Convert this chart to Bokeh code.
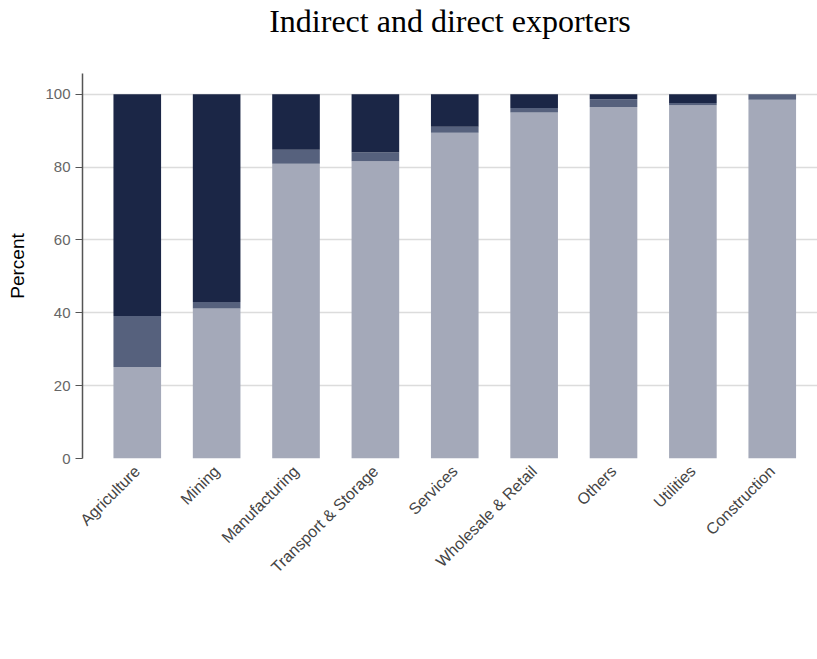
import math
from bokeh.plotting import figure
from bokeh.models import Range1d, Legend, LegendItem, Title, FixedTicker, ColumnDataSource
from bokeh.embed import file_html
from bokeh.resources import INLINE

sectors = ["Agriculture", "Mining", "Manufacturing", "Transport & Storage", "Services",
           "Wholesale & Retail", "Others", "Utilities", "Construction"]
low_exports = [25.1, 41.2, 80.9, 81.6, 89.4, 95.0, 96.5, 97.0, 98.5]
total_exports = [14.0, 1.8, 3.9, 2.5, 1.7, 1.2, 2.1, 0.6, 1.5]
direct_exports = [60.9, 57.0, 15.2, 15.9, 8.9, 3.8, 1.4, 2.4, 0.0]
series_names = ["Low exports", "25%+ total exports", "25%+ direct exports"]
colors = ["#a4a9b9", "#56617d", "#1b2646"]
y_ticks = [0, 20, 40, 60, 80, 100]

positions = list(range(len(sectors)))
source = ColumnDataSource(dict(pos=positions, low=low_exports, total=total_exports,
                               direct=direct_exports))

p = figure(frame_width=735, frame_height=385, output_backend="svg", toolbar_location=None,
           x_range=Range1d(-0.69, 8.57), y_range=Range1d(0, 105.7),
           min_border_left=82, min_border_right=0, min_border_top=0, min_border_bottom=0)

renderers = p.vbar_stack(["low", "total", "direct"], x="pos", width=0.6, source=source,
                         color=colors, line_color=None)

p.title.text = ""
spacer = Title(text=" ", text_font_size="10px", standoff=22)
main_title = Title(text="Indirect and direct exporters", align="center", offset=-34,
                   text_font="Liberation Serif", text_font_size="32px",
                   text_font_style="normal", text_color="#000000", standoff=0)
p.add_layout(spacer, "above")
p.add_layout(main_title, "above")

p.outline_line_color = None
p.xgrid.grid_line_color = None
p.ygrid.grid_line_color = "#dcdcdc"
p.ygrid.grid_line_width = 1.5
p.yaxis.ticker = FixedTicker(ticks=y_ticks)
p.yaxis.axis_label = "Percent"
p.yaxis.axis_label_text_font = "Liberation Sans"
p.yaxis.axis_label_text_font_size = "19px"
p.yaxis.axis_label_text_font_style = "normal"
p.yaxis.axis_label_text_color = "#000000"
p.yaxis.axis_label_standoff = 14
p.yaxis.major_label_text_font = "Liberation Sans"
p.yaxis.major_label_text_font_size = "15px"
p.yaxis.major_label_text_color = "#666666"
p.yaxis.axis_line_color = "#555555"
p.yaxis.axis_line_width = 1.5
p.yaxis.major_tick_line_color = "#555555"
p.yaxis.major_tick_in = 0
p.yaxis.major_tick_out = 7
p.yaxis.minor_tick_line_color = None

p.xaxis.ticker = FixedTicker(ticks=positions)
p.xaxis.major_label_overrides = {i: s for i, s in zip(positions, sectors)}
p.xaxis.axis_line_color = None
p.xaxis.major_tick_line_color = None
p.xaxis.major_tick_out = 0
p.xaxis.major_tick_in = 0
p.xaxis.minor_tick_line_color = None
p.xaxis.minor_tick_out = 0
p.xaxis.major_label_orientation = math.pi / 4
p.xaxis.major_label_text_font = "Liberation Sans"
p.xaxis.major_label_text_font_size = "16px"
p.xaxis.major_label_text_color = "#444444"
p.xaxis.major_label_standoff = 10

legend = Legend(items=[LegendItem(label=n, renderers=[r]) for n, r in zip(series_names, renderers)],
                orientation="horizontal", location="top_center",
                label_text_font="Liberation Sans", label_text_font_size="15px",
                label_text_color="#222222",
                glyph_width=33, glyph_height=16, spacing=30, label_standoff=14,
                border_line_color=None, background_fill_alpha=0, margin=0, padding=0)
p.add_layout(legend, "below")

open("out.html", "w").write(file_html(p, INLINE))
